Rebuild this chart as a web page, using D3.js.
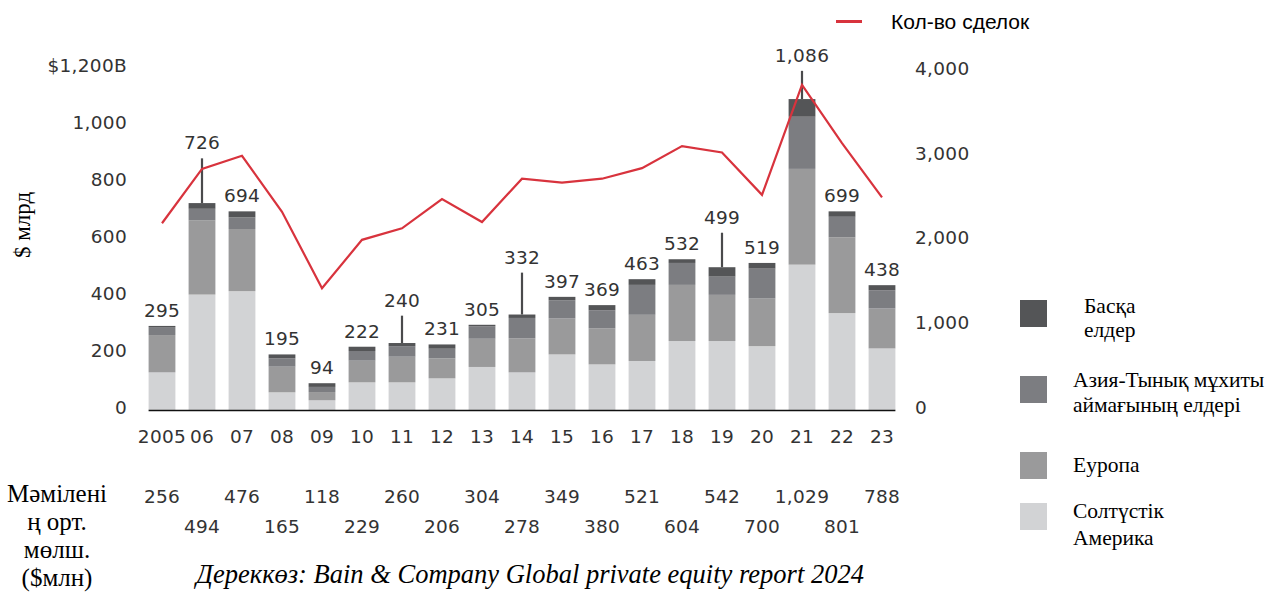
<!DOCTYPE html>
<html>
  <head>
    <meta charset="utf-8">
    <style>
        body { margin: 0; background: #fff; }
        svg { display: block; }
        .num { font-family: "DejaVu Sans", sans-serif; font-size: 18.5px; letter-spacing: 0.3px; fill: #333; }
        .serif { font-family: "Liberation Serif", "Times New Roman", serif; fill: #000; }
    </style>
    <script src="https://d3js.org/d3.v7.min.js"></script>
  </head>
  <body>
    <svg></svg>
    <script>
    // years on the x axis
    var years = ["2005", "06", "07", "08", "09", "10", "11", "12", "13", "14",
                 "15", "16", "17", "18", "19", "20", "21", "22", "23"];

    // stacked bars, $ bn, bottom to top
    var northAmerica = [132, 405, 417, 62, 34, 97, 97, 111, 151, 132, 195, 160, 172, 242, 242, 224, 510, 340, 216];
    var europe       = [131, 260, 218, 90, 29, 76, 90, 70, 99, 119, 126, 126, 162, 197, 162, 167, 336, 266, 140];
    var asiaPacific  = [28, 41, 41, 29, 18, 34, 37, 34, 44, 72, 64, 64, 105, 77, 64, 105, 183, 72, 64];
    var otherRegions = [4, 20, 21, 14, 13, 15, 11, 15, 5, 12, 12, 18, 20, 13, 33, 20, 62, 19, 18];

    // printed totals and thin whisker tops
    var totals = [295, 726, 694, 195, 94, 222, 240, 231, 305, 332, 397, 369, 463, 532, 499, 519, 1086, 699, 438];
    var whiskerTop = [null, 883, null, null, null, null, 331, null, null, 482, null, null, null, null, 622, null, 1190, null, null];

    // deal count (right axis)
    var dealCount = [2200, 2840, 2995, 2335, 1435, 2005, 2140, 2485, 2215, 2725, 2680, 2725, 2850, 3110, 3035, 2535, 3830, 3145, 2505];

    // average deal size, $ mln
    var avgDeal = [256, 494, 476, 165, 118, 229, 260, 206, 304, 278, 349, 380, 521, 604, 542, 700, 1029, 801, 788];

    var leftTicks = [0, 200, 400, 600, 800, 1000, 1200];
    var rightTicks = [0, 1000, 2000, 3000, 4000];

    var seriesKeys = ["na", "eu", "ap", "ot"];
    var seriesNames = {
        ot: ["Басқа", "елдер"],
        ap: ["Азия-Тынық мұхиты", "аймағының елдері"],
        eu: ["Еуропа"],
        na: ["Солтүстік", "Америка"]
    };
    var colors = { na: "#d2d3d5", eu: "#9a9a9b", ap: "#7c7d81", ot: "#545557" };

    var svg = d3.select("svg")
        .attr("width", 1267)
        .attr("height", 592);

    var x = d3.scaleBand()
        .domain(years)
        .range([142, 902])
        .paddingInner(0.33)
        .paddingOuter(0.165);

    var y = d3.scaleLinear().domain([0, 1200]).range([410, 68]);
    var y2 = d3.scaleLinear().domain([0, 4000]).range([410, 70.5]);

    var table = years.map(function(yr, i) {
        return { year: yr, na: northAmerica[i], eu: europe[i], ap: asiaPacific[i], ot: otherRegions[i] };
    });
    var stacked = d3.stack().keys(seriesKeys)(table);

    // bars
    svg.append("g")
      .selectAll("g")
      .data(stacked)
      .enter().append("g")
        .attr("fill", function(d) { return colors[d.key]; })
      .selectAll("rect")
      .data(function(d) { return d; })
      .enter().append("rect")
        .attr("x", function(d) { return x(d.data.year); })
        .attr("width", x.bandwidth())
        .attr("y", function(d) { return y(d[1]); })
        .attr("height", function(d) { return y(d[0]) - y(d[1]); });

    // whiskers
    svg.append("g")
      .selectAll("line")
      .data(years.filter(function(d, i) { return whiskerTop[i] != null; }))
      .enter().append("line")
        .attr("x1", function(d) { return x(d) + x.bandwidth() / 2; })
        .attr("x2", function(d) { return x(d) + x.bandwidth() / 2; })
        .attr("y1", function(d) { return y(whiskerTop[years.indexOf(d)]); })
        .attr("y2", function(d) { var i = years.indexOf(d); return y(stacked[3][i][1]); })
        .attr("stroke", "#4a4a4c")
        .attr("stroke-width", 2.2);

    // baseline
    svg.append("line")
        .attr("x1", x(years[0]))
        .attr("x2", x(years[years.length - 1]) + x.bandwidth())
        .attr("y1", 410.5).attr("y2", 410.5)
        .attr("stroke", "#111")
        .attr("stroke-width", 1.6);

    // totals above bars
    svg.append("g")
      .selectAll("text")
      .data(years)
      .enter().append("text")
        .attr("class", "num")
        .attr("text-anchor", "middle")
        .attr("x", function(d) { return x(d) + x.bandwidth() / 2; })
        .attr("y", function(d, i) {
            var top = stacked[3][i][1];
            if (whiskerTop[i] != null) top = Math.max(top, whiskerTop[i]);
            return y(top) - 9;
        })
        .text(function(d, i) { return d3.format(",")(totals[i]); });

    // deal count line
    var line = d3.line()
        .x(function(d, i) { return x(years[i]) + x.bandwidth() / 2; })
        .y(function(d) { return y2(d); });

    svg.append("path")
        .datum(dealCount)
        .attr("fill", "none")
        .attr("stroke", "#d8333d")
        .attr("stroke-width", 2.2)
        .attr("stroke-linejoin", "miter")
        .attr("d", line);

    // left axis
    var leftAxis = svg.append("g")
        .attr("transform", "translate(127,0)")
        .call(d3.axisLeft(y).tickValues(leftTicks).tickSize(0).tickPadding(0)
            .tickFormat(function(d) { return d == 1200 ? "$1,200B" : d3.format(",")(d); }));
    leftAxis.select(".domain").remove();
    leftAxis.selectAll("text").attr("class", "num").attr("dy", "0.2em").attr("fill", null);

    // right axis
    var rightAxis = svg.append("g")
        .attr("transform", "translate(915,0)")
        .call(d3.axisRight(y2).tickValues(rightTicks).tickSize(0).tickPadding(0)
            .tickFormat(d3.format(",")));
    rightAxis.select(".domain").remove();
    rightAxis.selectAll("text").attr("class", "num").attr("dy", "0.2em").attr("fill", null);

    // x labels
    svg.append("g")
      .selectAll("text")
      .data(years)
      .enter().append("text")
        .attr("class", "num")
        .attr("text-anchor", "middle")
        .attr("x", function(d) { return x(d) + x.bandwidth() / 2; })
        .attr("y", 443)
        .text(function(d) { return d; });

    // average deal size, two staggered rows
    svg.append("g")
      .selectAll("text")
      .data(years)
      .enter().append("text")
        .attr("class", "num")
        .attr("text-anchor", "middle")
        .attr("x", function(d) { return x(d) + x.bandwidth() / 2; })
        .attr("y", function(d, i) { return i % 2 == 0 ? 503 : 533; })
        .text(function(d, i) { return d3.format(",")(avgDeal[i]); });

    // y title
    svg.append("text")
        .attr("class", "serif")
        .attr("transform", "translate(30,225) rotate(-90)")
        .attr("text-anchor", "middle")
        .attr("font-size", "23px")
        .text("$ млрд");

    // avg deal title
    var avgTitle = svg.append("text")
        .attr("class", "serif")
        .attr("text-anchor", "middle")
        .attr("font-size", "25px");
    ["Мәмілені", "ң орт.", "мөлш.", "($млн)"].forEach(function(t, i) {
        avgTitle.append("tspan").attr("x", 57).attr("y", 502 + i * 28).text(t);
    });

    // source
    svg.append("text")
        .attr("class", "serif")
        .attr("x", 530)
        .attr("y", 583)
        .attr("text-anchor", "middle")
        .attr("font-size", "26.5px")
        .attr("font-style", "italic")
        .text("Дереккөз: Bain & Company Global private equity report 2024");

    // line legend
    svg.append("line")
        .attr("x1", 836).attr("x2", 862)
        .attr("y1", 21.5).attr("y2", 21.5)
        .attr("stroke", "#d8333d")
        .attr("stroke-width", 3);
    svg.append("text")
        .attr("x", 891)
        .attr("y", 29)
        .attr("font-family", "Liberation Sans, Arial, sans-serif")
        .attr("font-size", "21px")
        .attr("fill", "#000")
        .text("Кол-во сделок");

    // bar legend
    var legendItems = [
        { key: "ot", y: 300, tx: 1084, ty: [313, 337] },
        { key: "ap", y: 376, tx: 1073, ty: [387, 412] },
        { key: "eu", y: 452, tx: 1073, ty: [472] },
        { key: "na", y: 503, tx: 1073, ty: [518, 545] }
    ];
    var lg = svg.append("g")
      .selectAll("g")
      .data(legendItems)
      .enter().append("g");
    lg.append("rect")
        .attr("x", 1020)
        .attr("y", function(d) { return d.y; })
        .attr("width", 27)
        .attr("height", 27)
        .attr("fill", function(d) { return colors[d.key]; });
    lg.each(function(d) {
        var t = d3.select(this).append("text")
            .attr("class", "serif")
            .attr("font-size", "21.5px");
        seriesNames[d.key].forEach(function(s, j) {
            t.append("tspan").attr("x", d.tx).attr("y", d.ty[j]).text(s);
        });
    });
    </script>
  </body>
</html>
